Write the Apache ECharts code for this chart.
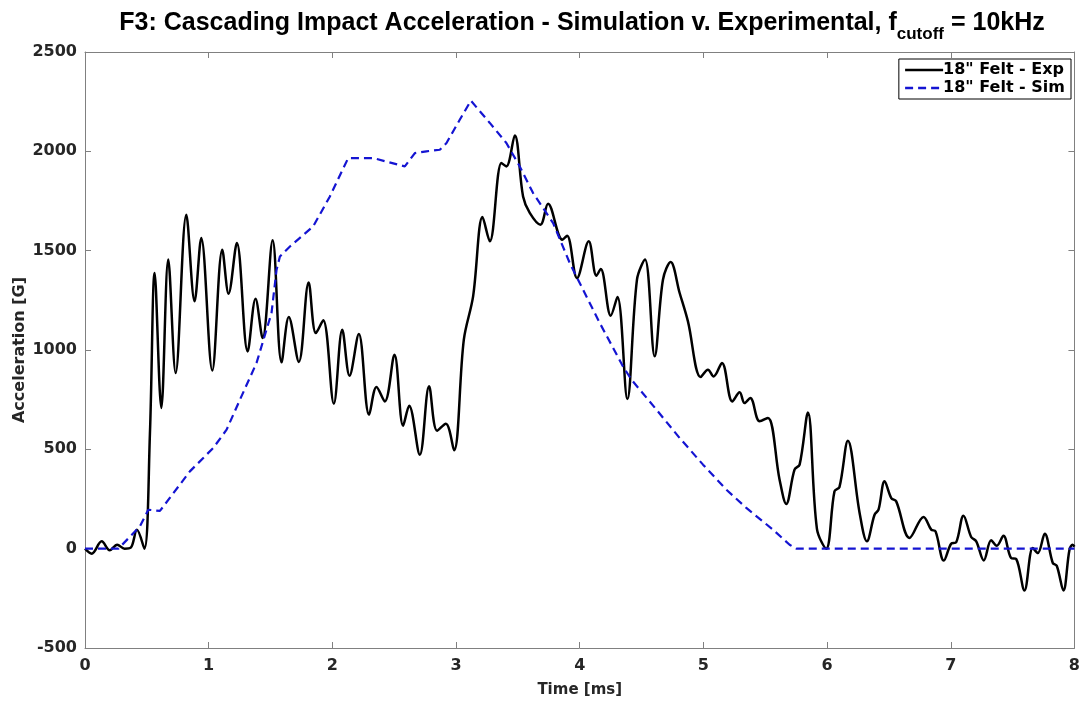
<!DOCTYPE html>
<html>
<head>
<meta charset="utf-8">
<script src="https://cdn.jsdelivr.net/npm/echarts@6/dist/echarts.min.js"></script>
<style>html,body{margin:0;padding:0;background:#fff}#c{width:1083px;height:705px}</style>
</head>
<body>
<div id="c"></div>
<script>
const expT = [0, 0.054, 0.135, 0.2, 0.26, 0.32, 0.37, 0.42, 0.48, 0.525, 0.563, 0.617, 0.673, 0.733, 0.819, 0.886, 0.94, 1.029, 1.11, 1.161, 1.228, 1.315, 1.379, 1.436, 1.517, 1.589, 1.648, 1.729, 1.808, 1.867, 1.926, 2.012, 2.08, 2.139, 2.214, 2.297, 2.357, 2.424, 2.502, 2.572, 2.621, 2.707, 2.782, 2.847, 2.917, 2.984, 3.063, 3.138, 3.214, 3.273, 3.367, 3.407, 3.475, 3.542, 3.596, 3.682, 3.744, 3.86, 3.898, 3.978, 4.073, 4.135, 4.17, 4.251, 4.305, 4.385, 4.463, 4.528, 4.606, 4.673, 4.735, 4.808, 4.875, 4.978, 5.037, 5.083, 5.15, 5.234, 5.293, 5.333, 5.379, 5.455, 5.522, 5.616, 5.67, 5.737, 5.778, 5.845, 5.918, 5.993, 6.06, 6.1, 6.168, 6.263, 6.322, 6.384, 6.416, 6.465, 6.519, 6.559, 6.667, 6.78, 6.842, 6.877, 6.944, 7.003, 7.044, 7.103, 7.165, 7.206, 7.267, 7.327, 7.372, 7.426, 7.488, 7.529, 7.596, 7.663, 7.704, 7.76, 7.825, 7.857, 7.911, 7.96, 7.986, 8.0];
const expV = [0, -25, 37, -8, 20, 0, 5, 95, 0, 580, 1387, 708, 1455, 884, 1681, 1245, 1564, 897, 1505, 1283, 1539, 993, 1258, 1060, 1552, 938, 1166, 940, 1340, 1085, 1150, 730, 1102, 871, 1080, 674, 814, 741, 976, 619, 720, 473, 817, 594, 629, 495, 1052, 1270, 1669, 1547, 1941, 1924, 2080, 1773, 1690, 1631, 1736, 1555, 1575, 1362, 1547, 1374, 1408, 1173, 1267, 753, 1354, 1455, 968, 1354, 1443, 1287, 1144, 864, 901, 867, 935, 741, 787, 733, 758, 641, 658, 347, 225, 398, 423, 686, 100, 0, 289, 310, 543, 180, 37, 171, 196, 339, 255, 238, 54, 160, 96, 87, -60, 25, 32, 166, 59, 37, -59, 42, 15, 65, -47, -52, -210, 3, -22, 75, -72, -86, -210, -5, 20, 10];
const simT = [0, 0.27, 0.444, 0.512, 0.606, 0.848, 1.037, 1.145, 1.253, 1.387, 1.508, 1.549, 1.576, 1.657, 1.845, 1.98, 2.128, 2.33, 2.586, 2.667, 2.761, 2.869, 2.923, 3.03, 3.12, 3.273, 3.407, 3.515, 3.623, 3.785, 3.919, 4.162, 4.35, 4.418, 4.62, 4.808, 4.997, 5.185, 5.347, 5.562, 5.697, 5.751, 8.0];
const simV = [0, 0, 112, 196, 190, 389, 507, 599, 750, 935, 1186, 1404, 1471, 1521, 1622, 1773, 1966, 1966, 1924, 1991, 2000, 2008, 2042, 2159, 2255, 2143, 2042, 1924, 1790, 1639, 1438, 1136, 917, 851, 700, 557, 423, 297, 205, 96, 20, 0, 0];
const seriesNames = ['18" Felt - Exp', '18" Felt - Sim'];
const titleMain = 'F3: Cascading Impact Acceleration - Simulation v. Experimental, f';
const titleSub = 'cutoff';
const titleEnd = ' = 10kHz';
const xName = 'Time [ms]';
const yName = 'Acceleration [G]';

const TFONT = 'Liberation Sans, Arial, sans-serif';
const FONT = 'DejaVu Sans, sans-serif';
const axisCol = '#808080';
const txtCol = '#262626';
function zip(a, b) { return a.map((x, i) => [x, b[i]]); }

const chart = echarts.init(document.getElementById('c'));
const baseX = {
  type: 'value', min: 0, max: 8, interval: 1,
  axisLine: { show: true, onZero: false, lineStyle: { color: axisCol, width: 1 } },
  axisTick: { show: true, inside: true, length: 6, lineStyle: { color: axisCol } },
  splitLine: { show: false }
};
const baseY = {
  type: 'value', min: -500, max: 2500, interval: 500,
  axisLine: { show: true, onZero: false, lineStyle: { color: axisCol, width: 1 } },
  axisTick: { show: true, inside: true, length: 6, lineStyle: { color: axisCol } },
  splitLine: { show: false }
};
chart.setOption({
  backgroundColor: '#fff',
  animation: false,
  title: {
    left: 577, textAlign: 'center', top: 6,
    text: '{a|' + titleMain + '}{s|' + titleSub + '}{a|' + titleEnd + '}',
    textStyle: {
      rich: {
        a: { fontFamily: TFONT, fontWeight: 'bold', fontSize: 25, color: '#000', verticalAlign: 'top', lineHeight: 28 },
        s: { fontFamily: TFONT, fontWeight: 'bold', fontSize: 17, color: '#000', verticalAlign: 'top', padding: [15, 0, 0, 0], lineHeight: 28 }
      }
    }
  },
  legend: {
    right: 12, top: 59, orient: 'vertical',
    backgroundColor: '#fff', borderColor: '#000', borderWidth: 1,
    padding: [2, 6, 2, 5], itemGap: 0, itemWidth: 38, itemHeight: 18,
    itemStyle: { opacity: 0 },
    lineStyle: { width: 2.5 },
    textStyle: { fontFamily: FONT, fontWeight: 'bold', fontSize: 16, color: '#000', padding: [0, 0, 0, -5], lineHeight: 18 },
    data: seriesNames
  },
  grid: { left: 85, right: 8, top: 52, bottom: 57, containLabel: false },
  xAxis: [
    Object.assign({}, baseX, {
      position: 'bottom', name: xName, nameLocation: 'middle', nameGap: 35, nameMoveOverlap: false,
      nameTextStyle: { fontFamily: FONT, fontWeight: 'bold', fontSize: 15, color: txtCol },
      axisLabel: { fontFamily: FONT, fontWeight: 'bold', fontSize: 16, color: txtCol, margin: 10 }
    }),
    Object.assign({}, baseX, { position: 'top', axisLabel: { show: false } })
  ],
  yAxis: [
    Object.assign({}, baseY, {
      position: 'left', name: yName, nameLocation: 'middle', nameGap: 57, nameRotate: 90, nameMoveOverlap: false,
      nameTextStyle: { fontFamily: FONT, fontWeight: 'bold', fontSize: 16, color: txtCol },
      axisLabel: { fontFamily: FONT, fontWeight: 'bold', fontSize: 16, color: txtCol, margin: 8, formatter: function (v) { return String(v); } }
    }),
    Object.assign({}, baseY, { position: 'right', axisLabel: { show: false } })
  ],
  series: [
    {
      name: seriesNames[0], type: 'line', xAxisIndex: 0, yAxisIndex: 0,
      data: zip(expT, expV), smooth: 0.35, symbol: 'none',
      lineStyle: { color: '#000', width: 2.5 }, itemStyle: { color: '#000' }
    },
    {
      name: seriesNames[1], type: 'line', xAxisIndex: 0, yAxisIndex: 0,
      data: zip(simT, simV), smooth: false, symbol: 'none',
      lineStyle: { color: '#1414d2', width: 2.2, type: [8, 5] }, itemStyle: { color: '#1414d2' }
    }
  ]
});
</script>
</body>
</html>
